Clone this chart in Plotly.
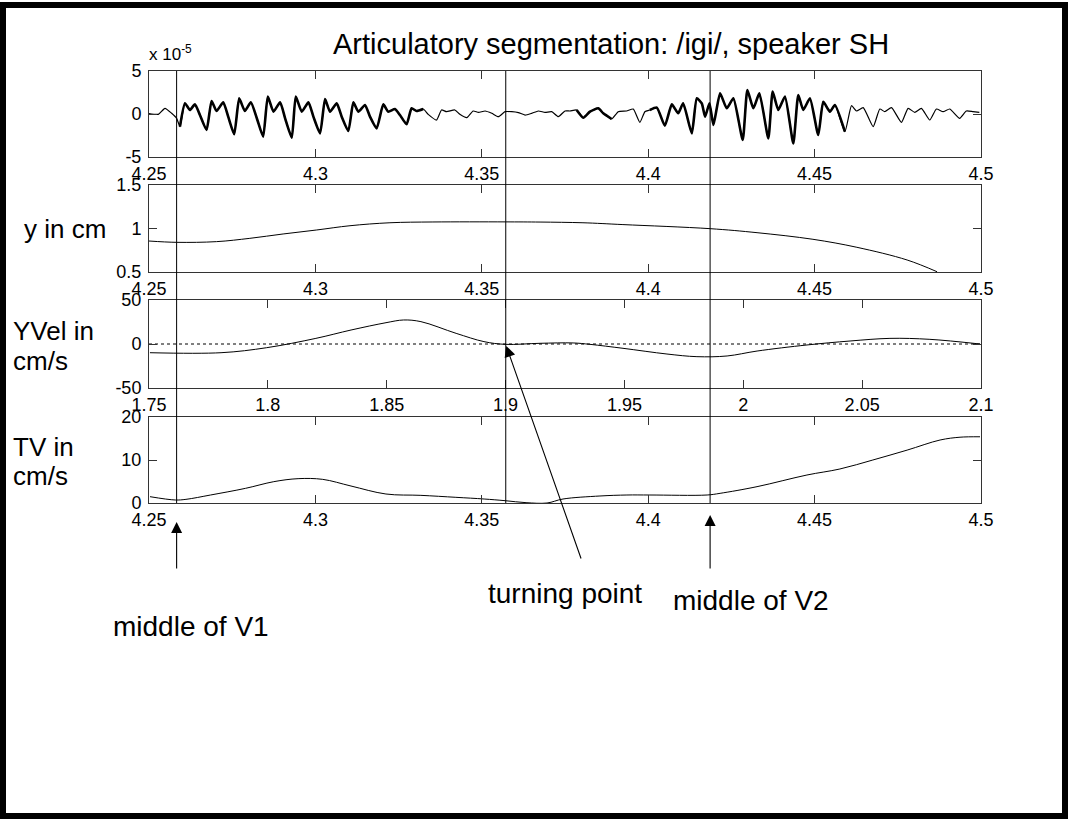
import plotly.graph_objects as go

FONT = "Liberation Sans, Arial, sans-serif"

# Acoustic waveform, amplitude in units of 1e-5
wave_t = [4.2500, 4.2528, 4.2548, 4.2568, 4.2583, 4.2593, 4.2608, 4.2623, 4.2638, 4.2653,
          4.2673, 4.2688, 4.2703, 4.2723, 4.2738, 4.2756, 4.2771, 4.2788, 4.2806, 4.2824,
          4.2843, 4.2857, 4.2874, 4.2894, 4.2909, 4.2929, 4.2941, 4.2959, 4.2979, 4.2994,
          4.3014, 4.3029, 4.3044, 4.3064, 4.3079, 4.3099, 4.3114, 4.3129, 4.3149, 4.3164,
          4.3184, 4.3204, 4.3219, 4.3239, 4.3254, 4.3274, 4.3289, 4.3304, 4.3324, 4.3339,
          4.3364, 4.3379, 4.3394, 4.3419, 4.3434, 4.3455, 4.3474, 4.3490, 4.3510, 4.3530,
          4.3550, 4.3570, 4.3590, 4.3610, 4.3630, 4.3650, 4.3670, 4.3690, 4.3710, 4.3730,
          4.3750, 4.3765, 4.3785, 4.3805, 4.3825, 4.3850, 4.3865, 4.3890, 4.3910, 4.3935,
          4.3955, 4.3975, 4.3990, 4.4005, 4.4026, 4.4050, 4.4071, 4.4090, 4.4105, 4.4131,
          4.4146, 4.4161, 4.4171, 4.4184, 4.4196, 4.4216, 4.4236, 4.4256, 4.4284, 4.4298,
          4.4316, 4.4334, 4.4361, 4.4374, 4.4391, 4.4411, 4.4436, 4.4451, 4.4466, 4.4486,
          4.4511, 4.4526, 4.4546, 4.4561, 4.4591, 4.4611, 4.4626, 4.4646, 4.4676, 4.4696,
          4.4711, 4.4731, 4.4761, 4.4781, 4.4801, 4.4821, 4.4846, 4.4866, 4.4886, 4.4906,
          4.4936, 4.4956, 4.4976, 4.4995]
wave_amp = [0.05, -0.04, 0.66, 0.08, -0.50, -1.47, 1.24, 0.47, 1.12, -0.12,
            -1.86, 1.51, 0.35, 1.36, -0.31, -2.36, 1.82, 0.35, 1.36, -0.50,
            -2.64, 2.02, 0.27, 1.36, -0.50, -2.75, 2.02, 0.27, 1.36, -0.31,
            -2.25, 1.74, 0.27, 1.24, -0.31, -1.98, 1.36, 0.27, 1.05, -0.31,
            -1.67, 1.12, 0.27, 0.58, -0.12, -1.20, 0.66, 0.35, 0.58, -0.04,
            -0.70, 0.47, 0.27, 0.47, -0.04, -0.43, 0.35, 0.19, 0.35, 0.08,
            -0.31, 0.27, 0.27, 0.16, -0.12, 0.08, 0.35, 0.19, 0.27, -0.31,
            0.35, 0.35, 0.47, -0.43, 0.27, 0.66, 0.08, -0.58, 0.27, 0.35,
            0.58, -0.97, 0.27, 0.47, 0.74, -1.36, 1.12, 0.08, 1.24, -2.25,
            1.82, 1.24, -0.31, 1.24, -1.28, 2.40, 0.66, 1.82, -3.02, 2.79,
            0.66, 2.40, -2.83, 2.60, 0.47, 2.02, -3.41, 2.21, 0.47, 1.82,
            -2.44, 1.43, 0.27, 1.05, -2.05, 0.97, 0.35, 0.74, -1.47, 0.58,
            0.27, 0.74, -0.97, 0.66, 0.19, 0.66, -0.70, 0.58, 0.27, 0.58,
            -0.50, 0.35, 0.27, 0.19]

# Stretches of the waveform carrying dense high-frequency energy (drawn heavier)
dense_spans = [(4.2590, 4.3330), (4.3770, 4.3900), (4.4000, 4.4600)]

# Vertical tongue position (cm)
pos_t = [4.2500, 4.2583, 4.2703, 4.2803, 4.2903, 4.3004, 4.3104, 4.3224, 4.3353, 4.3570,
         4.3675, 4.3804, 4.3924, 4.4186, 4.4327, 4.4495, 4.4627, 4.4778, 4.4868]
pos_y = [0.856, 0.841, 0.849, 0.887, 0.937, 0.983, 1.032, 1.066, 1.075, 1.076,
         1.074, 1.066, 1.045, 0.998, 0.952, 0.876, 0.784, 0.638, 0.503]

# Vertical velocity (cm/s) on its own time base
vel_t = [1.7504, 1.7803, 1.7995, 1.8202, 1.8350, 1.8497, 1.8571, 1.8644, 1.8792, 1.8909,
         1.8998, 1.9145, 1.9284, 1.9355, 1.9494, 1.9679, 1.9805, 1.9932, 2.0058, 2.0268,
         2.0449, 2.0617, 2.0785, 2.0996]
vel_y = [-9.9, -9.9, -4.2, 6.4, 15.9, 24.2, 27.3, 25.4, 12.1, 2.7,
         -0.4, 0.8, 1.2, -0.4, -4.9, -11.4, -14.4, -13.6, -8.0, -1.1,
         3.4, 6.4, 5.3, 0.0]

# Tangential velocity (cm/s)
tv_t = [4.2503, 4.2579, 4.2611, 4.2685, 4.2790, 4.2875, 4.2948, 4.3022, 4.3107, 4.3212,
        4.3317, 4.3422, 4.3507, 4.3570, 4.3633, 4.3696, 4.3744, 4.3855, 4.3936, 4.4005,
        4.4177, 4.4216, 4.4327, 4.4477, 4.4576, 4.4675, 4.4778, 4.4877, 4.4937, 4.4997]
tv_y = [1.47, 0.70, 0.85, 1.86, 3.41, 4.96, 5.66, 5.50, 3.95, 2.09,
        1.78, 1.32, 0.93, 0.54, 0.08, 0.00, 0.93, 1.63, 1.86, 1.86,
        1.86, 2.25, 3.80, 6.51, 7.91, 10.0, 12.3, 14.65, 15.3, 15.4]

# Segmentation marks: middle of V1, turning point, middle of V2
seg_marks = [4.2583, 4.3572, 4.4186]
turning_point = (1.9, 0.0)

time_ticks = [4.25, 4.3, 4.35, 4.4, 4.45, 4.5]
time_labels = ["4.25", "4.3", "4.35", "4.4", "4.45", "4.5"]
vel_time_ticks = [1.75, 1.8, 1.85, 1.9, 1.95, 2.0, 2.05, 2.1]
vel_time_labels = ["1.75", "1.8", "1.85", "1.9", "1.95", "2", "2.05", "2.1"]

# ---- page geometry (pixels) ----
W, H = 1072, 821
L, R, T, B = 149, 981, 71, 503
panels = [(71, 157), (185, 272), (300, 388), (417, 503)]


def px(x):
    return (x - L) / (R - L)


def py(y):
    return (B - y) / (B - T)


AX = "#333333"
axis_common = dict(showline=True, linecolor=AX, linewidth=1, mirror="ticks",
                   ticks="inside", ticklen=8, tickcolor=AX, tickwidth=1,
                   showgrid=False, zeroline=False,
                   tickfont=dict(family=FONT, size=18, color="black"))

fig = go.Figure()
line = dict(color="black", width=1)
fig.add_trace(go.Scatter(x=wave_t, y=wave_amp, mode="lines",
                         line=dict(color="black", width=1.2, shape="spline", smoothing=0.5),
                         xaxis="x", yaxis="y"))
for a, b in dense_spans:
    idx = [i for i, t in enumerate(wave_t) if a <= t <= b]
    fig.add_trace(go.Scatter(x=[wave_t[i] for i in idx], y=[wave_amp[i] for i in idx],
                             mode="lines",
                             line=dict(color="black", width=2.6, shape="spline", smoothing=0.5),
                             xaxis="x", yaxis="y"))
fig.add_trace(go.Scatter(x=pos_t, y=pos_y, mode="lines", line_shape="spline",
                         line=line, xaxis="x2", yaxis="y2"))
fig.add_trace(go.Scatter(x=[vel_time_ticks[0], vel_time_ticks[-1]], y=[0, 0], mode="lines",
                         line=dict(color="black", width=1, dash="dot"), xaxis="x3", yaxis="y3"))
fig.add_trace(go.Scatter(x=vel_t, y=vel_y, mode="lines", line_shape="spline",
                         line=line, xaxis="x3", yaxis="y3"))
fig.add_trace(go.Scatter(x=tv_t, y=tv_y, mode="lines", line_shape="spline",
                         line=line, xaxis="x4", yaxis="y4"))

layout = dict(width=W, height=H, autosize=False, showlegend=False,
              paper_bgcolor="white", plot_bgcolor="white",
              margin=dict(l=L, r=W - R, t=T, b=H - B, pad=0),
              font=dict(family=FONT, color="black"))

y_ranges = [[-5, 5], [0.5, 1.5], [-50, 50], [0, 20]]
y_ticks = [[-5, 0, 5], [0.5, 1, 1.5], [-50, 0, 50], [0, 10, 20]]
y_labels = [["-5", "0", "5"], ["0.5", "1", "1.5"], ["-50", "0", "50"], ["0", "10", "20"]]

for i, (top, bot) in enumerate(panels):
    sfx = "" if i == 0 else str(i + 1)
    if i == 2:
        xr, xt, xl = [1.75, 2.1], vel_time_ticks, vel_time_labels
    else:
        xr, xt, xl = [4.25, 4.5], time_ticks, time_labels
    layout["xaxis" + sfx] = dict(axis_common, range=xr, tickvals=xt, ticktext=xl,
                                 anchor="y" + sfx, domain=[0, 1], ticklabelstandoff=0)
    layout["yaxis" + sfx] = dict(axis_common, range=y_ranges[i], tickvals=y_ticks[i],
                                 ticktext=y_labels[i], anchor="x" + sfx,
                                 domain=[py(bot), py(top)], ticklabelstandoff=3)

fig.update_layout(**layout)

# segmentation lines through all four panels
for m in seg_marks:
    fig.add_shape(type="line", xref="x4", yref="paper", x0=m, x1=m, y0=0, y1=1,
                  line=dict(color="black", width=1))

# outer frame
fig.add_shape(type="rect", xref="paper", yref="paper",
              x0=px(3), x1=px(1065), y0=py(816), y1=py(5),
              line=dict(color="black", width=6))


def text(s, x, y, size, xanchor="center", yanchor="middle"):
    fig.add_annotation(text=s, xref="paper", yref="paper", x=px(x), y=py(y),
                       xanchor=xanchor, yanchor=yanchor, showarrow=False,
                       font=dict(family=FONT, size=size, color="black"))


text("Articulatory segmentation: /igi/, speaker SH", 611, 44, 29)
text("x 10<sup>-5</sup>", 147, 66, 17, xanchor="left", yanchor="bottom")
text("y in cm", 22, 229, 26, xanchor="left")
text("YVel in", 11, 331, 26, xanchor="left")
text("cm/s", 11, 361, 26, xanchor="left")
text("TV in", 11, 447, 26, xanchor="left")
text("cm/s", 11, 476, 26, xanchor="left")
text("turning point", 565, 593, 28)
text("middle of V2", 751, 600, 28)
text("middle of V1", 191, 626, 28)

arrow = dict(showarrow=True, arrowhead=2, arrowsize=2, arrowwidth=1.1,
             arrowcolor="black", text="", axref="pixel", ayref="pixel")
fig.add_annotation(x=seg_marks[0], y=py(522), xref="x4", yref="paper", ax=0, ay=48, **arrow)
fig.add_annotation(x=seg_marks[2], y=py(515), xref="x4", yref="paper", ax=0, ay=55, **arrow)
fig.add_annotation(x=turning_point[0], y=turning_point[1], xref="x3", yref="y3",
                   ax=76, ay=216, standoff=2, **arrow)

fig.write_html("out.html")
